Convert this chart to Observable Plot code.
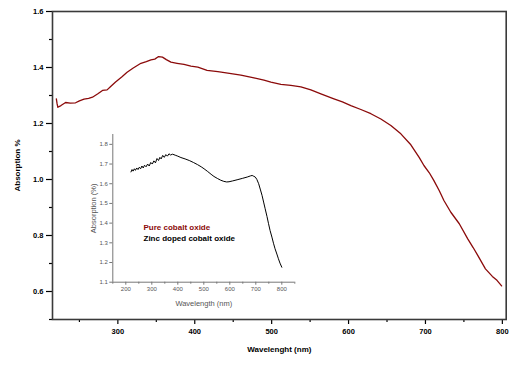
<!DOCTYPE html>
<html>
<head>
<meta charset="utf-8">
<script src="https://cdn.jsdelivr.net/npm/d3@7"></script>
<script src="https://cdn.jsdelivr.net/npm/@observablehq/plot@0.6"></script>
<style>
  html, body { margin: 0; padding: 0; background: #fff; }
  #wrap { position: relative; width: 527px; height: 365px; font-family: "Liberation Sans", Arial, sans-serif; }
  #inset { position: absolute; left: 80px; top: 125px; }
  svg { overflow: visible; }
</style>
</head>
<body>
<div id="wrap"><div id="main"></div><div id="inset"></div></div>
<script>
// Main chart: pure cobalt oxide
const mainWavelength = [220,221,222,226,232,238,245,250,256,262,267,274,280,286,291,297,305,312,320,330,337,343,348,353,358,363,369,377,386,395,404,416,430,443,460,477,490,499,512,525,538,551,564,581,592,603,616,629,642,655,668,681,692,698,705,711,718,724,733,744,755,762,768,778,787,793,799];
const mainAbsorption = [1.288,1.270,1.258,1.264,1.275,1.273,1.274,1.281,1.287,1.290,1.294,1.306,1.318,1.320,1.333,1.348,1.366,1.383,1.398,1.415,1.421,1.427,1.430,1.439,1.437,1.428,1.419,1.415,1.411,1.405,1.401,1.390,1.385,1.380,1.373,1.363,1.355,1.348,1.340,1.336,1.331,1.320,1.306,1.288,1.277,1.264,1.250,1.235,1.216,1.193,1.163,1.124,1.078,1.050,1.024,0.996,0.960,0.925,0.883,0.842,0.788,0.757,0.729,0.681,0.654,0.640,0.620];

// Inset: zinc doped cobalt oxide
const insetWavelength = [220,224,228,233,237,242,247,252,257,262,267,272,278,284,290,296,302,308,314,320,326,331,336,342,348,354,360,366,372,380,390,400,412,428,444,460,476,490,501,515,528,539,552,565,577,588,597,610,628,648,667,680,686,692,698,704,711,717,724,730,736,743,749,755,762,768,774,781,787,793,800];
const insetAbsorption = [1.660,1.672,1.664,1.676,1.668,1.680,1.672,1.684,1.676,1.690,1.680,1.694,1.686,1.700,1.690,1.708,1.700,1.716,1.706,1.728,1.718,1.734,1.726,1.744,1.734,1.748,1.740,1.752,1.746,1.750,1.745,1.740,1.733,1.726,1.718,1.708,1.697,1.686,1.676,1.662,1.648,1.637,1.627,1.618,1.612,1.609,1.610,1.614,1.620,1.627,1.634,1.640,1.642,1.638,1.634,1.622,1.600,1.573,1.541,1.507,1.473,1.434,1.397,1.362,1.329,1.298,1.270,1.243,1.219,1.197,1.176];

const mainXTicks = [300,400,500,600,700,800];
const mainXMinor = [250,350,450,550,650,750];
const mainYTicks = [0.6,0.8,1.0,1.2,1.4,1.6];
const mainYMinor = [0.5,0.7,0.9,1.1,1.3,1.5];
const insetXTicks = [200,300,400,500,600,700,800];
const insetXMinor = [150,250,350,450,550,650,750,850];
const insetYTicks = [1.1,1.2,1.3,1.4,1.5,1.6,1.7,1.8];

const legendLabels = ["Pure cobalt oxide", "Zinc doped cobalt oxide"];
const legendColors = ["#8b0a0a", "#000000"];

const mainData = mainWavelength.map((x, i) => ({x, y: mainAbsorption[i]}));
const insetData = insetWavelength.map((x, i) => ({x, y: insetAbsorption[i]}));

const FONT = "Liberation Sans, Arial, sans-serif";

const main = Plot.plot({
  width: 527, height: 365,
  marginLeft: 52, marginRight: 21.3, marginTop: 11, marginBottom: 46,
  style: {fontFamily: FONT, background: "transparent", color: "#000"},
  x: {domain: [215, 805]},
  y: {domain: [0.5, 1.6]},
  marks: [
    Plot.axisX({ticks: mainXMinor, tickSize: 3, text: null, label: null, strokeWidth: 1.2}),
    Plot.axisY({ticks: mainYMinor, tickSize: 3, text: null, label: null, strokeWidth: 1.2}),
    Plot.axisX({ticks: mainXTicks, tickSize: 5, tickPadding: 4, fontSize: 7.5, fontWeight: "bold",
      label: "Wavelenght (nm)", labelAnchor: "center", labelArrow: "none", labelOffset: 32, strokeWidth: 1.2}),
    Plot.axisY({ticks: mainYTicks, tickSize: 6, tickPadding: 3, fontSize: 7.5, fontWeight: "bold",
      tickFormat: d3.format(".1f"),
      label: "Absorption %", labelAnchor: "center", labelArrow: "none", labelOffset: 38, strokeWidth: 1.2}),
    Plot.frame({stroke: "#3a3a3a", strokeWidth: 1.6}),
    Plot.line(mainData, {x: "x", y: "y", stroke: legendColors[0], strokeWidth: 1.3})
  ]
});
main.querySelectorAll('[aria-label$="axis label"] text').forEach(t => { t.setAttribute("font-weight", "bold"); t.setAttribute("font-size", "8"); });
document.getElementById("main").appendChild(main);

const inset = Plot.plot({
  width: 225, height: 190,
  marginLeft: 32.3, marginRight: 10.7, marginTop: 9, marginBottom: 33.3,
  style: {fontFamily: FONT, background: "transparent", color: "#555"},
  x: {domain: [150, 850]},
  y: {domain: [1.1, 1.85]},
  marks: [
    Plot.axisX({ticks: insetXMinor, tickSize: 2, text: null, label: null, stroke: "#777"}),
    Plot.axisX({ticks: insetXTicks, tickSize: 3, tickPadding: 2, fontSize: 6, stroke: "#777", fill: "#555",
      label: "Wavelength (nm)", labelAnchor: "center", labelArrow: "none", labelOffset: 24}),
    Plot.axisY({ticks: insetYTicks, tickSize: 3, tickPadding: 2, fontSize: 6, stroke: "#777", fill: "#555",
      tickFormat: d3.format(".1f"),
      label: "Absorption (%)", labelAnchor: "center", labelArrow: "none", labelOffset: 22}),
    Plot.ruleX([150], {stroke: "#777", strokeWidth: 1}),
    Plot.ruleY([1.1], {stroke: "#777", strokeWidth: 1}),
    Plot.line(insetData, {x: "x", y: "y", stroke: "#000", strokeWidth: 1}),
    Plot.text([legendLabels[0]], {frameAnchor: "top-left", dx: 30.7, dy: 93, text: d => d, fill: legendColors[0],
      fontSize: 8, fontWeight: "bold", textAnchor: "start", lineAnchor: "middle"}),
    Plot.text([legendLabels[1]], {frameAnchor: "top-left", dx: 30.7, dy: 103.5, text: d => d, fill: legendColors[1],
      fontSize: 8, fontWeight: "bold", textAnchor: "start", lineAnchor: "middle"})
  ]
});
inset.querySelectorAll('[aria-label$="axis label"] text').forEach(t => { t.setAttribute("font-size", "7.5"); t.setAttribute("fill", "#555"); });
document.getElementById("inset").appendChild(inset);
</script>
</body>
</html>
